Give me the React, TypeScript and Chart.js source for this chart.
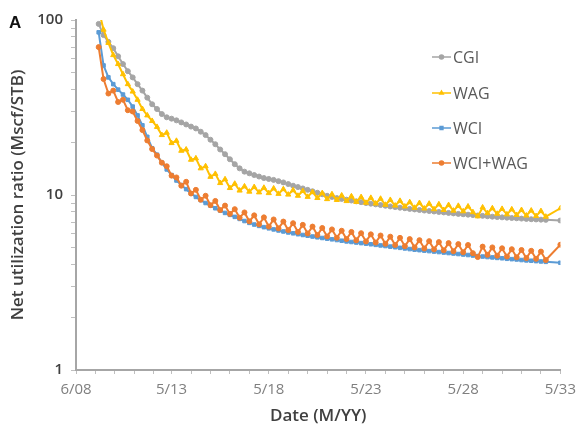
import React, { useEffect, useRef } from 'react';
import { Chart, registerables } from 'chart.js';
import { drawPoint } from 'chart.js/helpers';

Chart.register(...registerables);

// ---- data ----
const panelLabel = 'A';
const seriesNames = ['CGI', 'WAG', 'WCI', 'WCI+WAG'];
const xTitle = 'Date (M/YY)';
const yTitle = 'Net utilization ratio (Mscf/STB)';

// months elapsed since 6/08 for each sample
const months = [
  14, 17, 20, 23, 26, 29, 32, 35, 38, 41,
  44, 47, 50, 53, 56, 59, 62, 65, 68, 71,
  74, 77, 80, 83, 86, 89, 92, 95, 98, 101,
  104, 107, 110, 113, 116, 119, 122, 125, 128, 131,
  134, 137, 140, 143, 146, 149, 152, 155, 158, 161,
  164, 167, 170, 173, 176, 179, 182, 185, 188, 191,
  194, 197, 200, 203, 206, 209, 212, 215, 218, 221,
  224, 227, 230, 233, 236, 239, 242, 245, 248, 251,
  254, 257, 260, 263, 266, 269, 272, 275, 278, 281,
  284, 287, 290, 299,
];

const cgi = [
  95, 82, 75, 69, 62, 56, 51, 47, 43, 39.5,
  36, 33, 31, 29, 27.8, 27.3, 26.7, 26.0, 25.3, 24.6,
  24.0, 23.0, 22.0, 20.7, 19.5, 18.2, 17.1, 16.0, 15.0, 14.2,
  13.6, 13.3, 13.0, 12.75, 12.5, 12.35, 12.2, 12.0, 11.8, 11.55,
  11.3, 11.1, 10.9, 10.7, 10.5, 10.3, 10.1, 9.9, 9.75, 9.6,
  9.5, 9.4, 9.3, 9.2, 9.1, 9.0, 8.92, 8.84, 8.76, 8.68,
  8.6, 8.53, 8.46, 8.4, 8.33, 8.27, 8.21, 8.15, 8.1, 8.05,
  8.0, 7.95, 7.9, 7.85, 7.8, 7.76, 7.72, 7.68, 7.64, 7.6,
  7.56, 7.52, 7.48, 7.45, 7.42, 7.39, 7.36, 7.33, 7.3, 7.27,
  7.25, 7.23, 7.21, 7.15,
];

const wag = [
  115, 88, 74, 63, 56, 49, 43, 39, 35, 31,
  28.5, 26.5, 24.5, 22.0, 22.7, 19.8, 20.4, 17.9, 18.2, 15.9,
  16.2, 14.2, 14.6, 12.7, 13.2, 11.7, 12.3, 10.96, 11.6, 10.6,
  11.2, 10.45, 11.1, 10.35, 11.0, 10.25, 10.9, 10.15, 10.8, 10.05,
  10.65, 9.9, 10.55, 9.76, 10.4, 9.61, 10.25, 9.47, 10.1, 9.37,
  9.94, 9.23, 9.83, 9.13, 9.73, 9.03, 9.63, 8.94, 9.52, 8.79,
  9.37, 8.7, 9.26, 8.6, 9.1, 8.45, 9.0, 8.37, 8.92, 8.29,
  8.85, 8.21, 8.76, 8.14, 8.67, 8.07, 8.6, 7.98, 7.55, 8.49,
  7.87, 8.4, 7.81, 8.33, 7.75, 8.28, 7.69, 8.21, 7.63, 8.15,
  7.58, 8.09, 7.52, 8.4,
];

const wci = [
  85, 55, 47, 43, 40, 37.5, 35, 32, 28.5, 25,
  21.5, 18.5, 17.0, 15.3, 14.0, 13.0, 12.1, 11.4, 10.8, 10.2,
  9.75, 9.35, 9.0, 8.7, 8.4, 8.15, 7.9, 7.7, 7.5, 7.3,
  7.1, 6.93, 6.78, 6.66, 6.55, 6.45, 6.36, 6.27, 6.19, 6.11,
  6.04, 5.97, 5.91, 5.85, 5.79, 5.73, 5.68, 5.63, 5.58, 5.53,
  5.48, 5.43, 5.39, 5.35, 5.31, 5.27, 5.23, 5.19, 5.15, 5.11,
  5.07, 5.03, 4.99, 4.95, 4.91, 4.87, 4.84, 4.81, 4.78, 4.75,
  4.72, 4.69, 4.66, 4.63, 4.6, 4.57, 4.54, 4.51, 4.48, 4.45,
  4.42, 4.4, 4.37, 4.35, 4.32, 4.3, 4.28, 4.25, 4.23, 4.21,
  4.19, 4.17, 4.15, 4.1,
];

const wciWag = [
  70, 46, 38, 39.5, 34, 35, 30.5, 30, 26.5, 23.5,
  20.5, 18.3, 16.8, 15.3, 14.6, 12.9, 12.6, 11.3, 11.9, 10.2,
  10.7, 9.4, 9.9, 8.75, 9.25, 8.2, 8.7, 7.8, 8.3, 7.42,
  7.95, 7.07, 7.65, 6.8, 7.45, 6.6, 7.25, 6.45, 7.05, 6.3,
  6.9, 6.15, 6.75, 6.03, 6.6, 5.9, 6.48, 5.8, 6.36, 5.7,
  6.25, 5.6, 6.15, 5.51, 6.05, 5.43, 5.96, 5.35, 5.87, 5.26,
  5.78, 5.18, 5.69, 5.1, 5.6, 5.02, 5.52, 4.95, 5.45, 4.89,
  5.38, 4.83, 5.31, 4.77, 5.24, 4.71, 5.18, 4.65, 4.42, 5.07,
  4.55, 5.02, 4.5, 4.96, 4.45, 4.9, 4.41, 4.85, 4.36, 4.8,
  4.32, 4.75, 4.25, 5.2,
];

const xTickMonths = [0, 59, 119, 179, 239, 299];
const xTickLabels = ['6/08', '5/13', '5/18', '5/23', '5/28', '5/33'];
const yTickValues = [1, 10, 100];

// ---- styles ----
const colors = ['#a5a5a5', '#ffc000', '#5b9bd5', '#ed7d31'];
const pointStyles = ['circle', 'triangle', 'rect', 'circle'];
const pointRadii = [2.5, 3, 2.5, 2.5];
const seriesValues = [cgi, wag, wci, wciWag];
const drawOrder = [3, 2, 1, 0];

const FONT = '"Open Sans", "DejaVu Sans", sans-serif';

export default function App() {
  const ref = useRef<HTMLCanvasElement>(null);

  useEffect(() => {
    document.body.style.margin = '0';
    const canvas = ref.current;
    if (!canvas) return;

    const minorX: number[] = [];
    for (let i = 0; i < xTickMonths.length; i++) {
      minorX.push(xTickMonths[i]);
      if (i < xTickMonths.length - 1) {
        for (let j = 1; j <= 4; j++) minorX.push(xTickMonths[i] + 12 * j);
      }
    }
    const yTicksAll: number[] = [];
    for (let d = 1; d < 100; d *= 10) {
      for (let j = 1; j <= 9; j++) yTicksAll.push(d * j);
    }
    yTicksAll.push(100);

    const overlay = {
      id: 'overlay',
      afterDraw(chart: any) {
        const ctx = chart.ctx as CanvasRenderingContext2D;
        ctx.save();
        ctx.fillStyle = '#111';
        ctx.font = 'bold 17px "Liberation Sans", Arial, sans-serif';
        ctx.textBaseline = 'alphabetic';
        ctx.textAlign = 'left';
        ctx.fillText(panelLabel, 9, 28);

        const legendY = [57, 93, 128, 163];
        const lx0 = 432;
        const lx1 = 451;
        seriesNames.forEach((name, i) => {
          const y = legendY[i];
          ctx.strokeStyle = colors[i];
          ctx.lineWidth = 1.5;
          ctx.beginPath();
          ctx.moveTo(lx0, y);
          ctx.lineTo(lx1, y);
          ctx.stroke();
          ctx.fillStyle = colors[i];
          drawPoint(ctx, { pointStyle: pointStyles[i] as any, radius: 2, rotation: 0, borderWidth: 1 }, (lx0 + lx1) / 2, y);
          ctx.fillStyle = '#595959';
          ctx.font = `16px ${FONT}`;
          ctx.textBaseline = 'middle';
          ctx.fillText(name, lx1 + 2, y + 1);
        });
        ctx.restore();
      },
    };

    const chart = new Chart(canvas, {
      type: 'line',
      data: {
        datasets: seriesNames.map((name, i) => ({
          label: name,
          data: months.map((m, k) => ({ x: m, y: seriesValues[i][k] })),
          borderColor: colors[i],
          backgroundColor: colors[i],
          pointBackgroundColor: colors[i],
          pointBorderColor: colors[i],
          pointStyle: pointStyles[i] as any,
          pointRadius: pointRadii[i],
          pointBorderWidth: 1,
          borderWidth: 2,
          tension: 0,
          fill: false,
          order: drawOrder[i],
        })),
      },
      options: {
        animation: false,
        responsive: false,
        maintainAspectRatio: false,
        layout: { padding: { left: 0, top: 20, right: 17, bottom: 0 } },
        plugins: {
          legend: { display: false },
          tooltip: { enabled: false },
        },
        scales: {
          x: {
            type: 'linear',
            min: 0,
            max: 299,
            afterBuildTicks: (scale: any) => {
              scale.ticks = minorX.map((v) => ({ value: v }));
            },
            afterFit: (scale: any) => {
              scale.height = 64;
            },
            ticks: {
              autoSkip: false,
              maxRotation: 0,
              padding: 7,
              color: '#7f7f7f',
              font: { family: FONT, size: 15 },
              callback: (v: any) => {
                const idx = xTickMonths.indexOf(Number(v));
                return idx >= 0 ? xTickLabels[idx] : '';
              },
            },
            grid: { drawOnChartArea: false, drawTicks: true, tickLength: 4, color: '#bfbfbf' },
            border: { color: '#a6a6a6', width: 2 },
            title: {
              display: true,
              text: xTitle,
              color: '#404040',
              font: { family: FONT, size: 17, weight: '600' as any },
              padding: { top: 0, bottom: 8 },
            },
          },
          y: {
            type: 'logarithmic',
            min: 1,
            max: 100,
            afterBuildTicks: (scale: any) => {
              scale.ticks = yTicksAll.map((v) => ({ value: v }));
            },
            afterFit: (scale: any) => {
              scale.width = 76;
            },
            ticks: {
              autoSkip: false,
              padding: 8,
              color: '#404040',
              font: { family: FONT, size: 15, weight: '600' as any },
              callback: (v: any) => (yTickValues.includes(Number(v)) ? String(v) : ''),
            },
            grid: { drawOnChartArea: false, drawTicks: true, tickLength: 5, color: '#bfbfbf' },
            border: { color: '#a6a6a6', width: 2 },
            title: {
              display: true,
              text: yTitle,
              color: '#404040',
              font: { family: FONT, size: 17, weight: '600' as any },
              padding: { top: 8, bottom: 0 },
            },
          },
        },
      },
      plugins: [overlay],
    });

    return () => chart.destroy();
  }, []);

  return (
    <div style={{ width: 583, height: 434 }}>
      <canvas ref={ref} width={583} height={434} style={{ display: 'block' }} />
    </div>
  );
}
